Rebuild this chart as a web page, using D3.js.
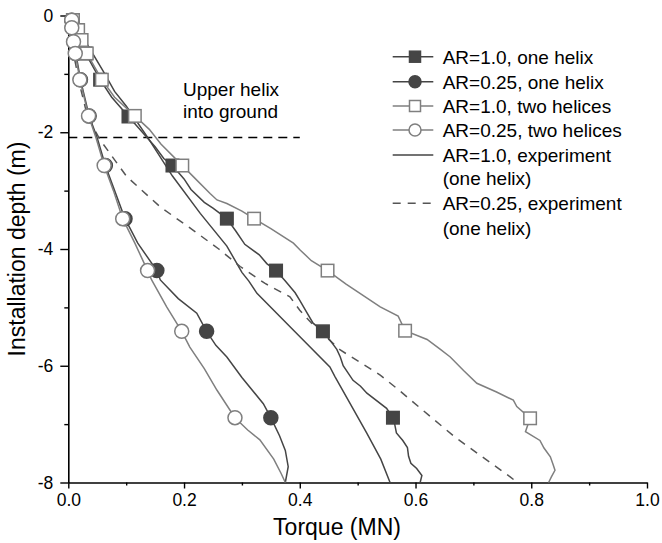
<!DOCTYPE html>
<html><head><meta charset="utf-8">
<script src="https://cdn.jsdelivr.net/npm/d3@7"></script>
<style>
html,body{margin:0;padding:0;background:#fff;}
svg{display:block;font-family:"Liberation Sans",Arial,Helvetica,sans-serif;}
</style></head>
<body><svg id="c" width="662" height="543"></svg>
<script>
// ---- data (torque MN, depth m) ----
const seriesNames = ["AR=1.0, one helix","AR=0.25, one helix","AR=1.0, two helices","AR=0.25, two helices","AR=1.0, experiment","AR=0.25, experiment"];
const xTicks = [0,0.2,0.4,0.6,0.8,1.0];
const xTickLabels = ["0.0","0.2","0.4","0.6","0.8","1.0"];
const yTicks = [0,-2,-4,-6,-8];
const yTickLabels = ["0","-2","-4","-6","-8"];

const ar1OneLine = [[0,0],[0.008,-0.08],[0.016,-0.25],[0.022,-0.42],[0.03,-0.65],[0.055,-1.1],[0.075,-1.4],[0.104,-1.73],[0.128,-2.0],[0.15,-2.25],[0.165,-2.45],[0.18,-2.57],[0.2,-2.8],[0.212,-2.98],[0.235,-3.2],[0.25,-3.3],[0.274,-3.48],[0.29,-3.7],[0.305,-3.92],[0.33,-4.1],[0.343,-4.25],[0.359,-4.37],[0.375,-4.55],[0.392,-4.75],[0.40,-4.88],[0.41,-5.05],[0.423,-5.27],[0.44,-5.41],[0.455,-5.6],[0.464,-5.72],[0.47,-5.85],[0.475,-6.0],[0.492,-6.25],[0.505,-6.35],[0.516,-6.47],[0.55,-6.73],[0.561,-6.89],[0.564,-7.0],[0.567,-7.15],[0.578,-7.28],[0.586,-7.4],[0.588,-7.55],[0.592,-7.67],[0.602,-7.76],[0.611,-7.88],[0.608,-8]];
const ar1OneMarks = [[0.008,-0.08],[0.016,-0.25],[0.022,-0.42],[0.03,-0.65],[0.055,-1.1],[0.104,-1.73],[0.18,-2.57],[0.274,-3.48],[0.359,-4.37],[0.44,-5.41],[0.561,-6.89]];

const ar025OneLine = [[0,0],[0.006,-0.08],[0.007,-0.21],[0.010,-0.45],[0.013,-0.65],[0.021,-1.1],[0.036,-1.72],[0.05,-2.1],[0.064,-2.57],[0.08,-3.0],[0.098,-3.48],[0.12,-3.9],[0.153,-4.37],[0.159,-4.53],[0.19,-4.85],[0.222,-5.1],[0.239,-5.41],[0.255,-5.65],[0.274,-5.85],[0.30,-6.2],[0.337,-6.65],[0.35,-6.89],[0.365,-7.2],[0.375,-7.45],[0.38,-7.73],[0.375,-8]];
const ar025OneMarks = [[0.006,-0.08],[0.007,-0.21],[0.010,-0.45],[0.013,-0.65],[0.021,-1.1],[0.036,-1.72],[0.064,-2.57],[0.098,-3.48],[0.153,-4.37],[0.239,-5.41],[0.35,-6.89]];

const ar1TwoLine = [[0,0],[0.008,-0.08],[0.017,-0.25],[0.023,-0.42],[0.032,-0.65],[0.058,-1.1],[0.08,-1.4],[0.115,-1.72],[0.14,-1.95],[0.16,-2.2],[0.18,-2.4],[0.197,-2.57],[0.216,-2.76],[0.245,-3.05],[0.257,-3.16],[0.274,-3.22],[0.3,-3.35],[0.321,-3.48],[0.35,-3.65],[0.389,-3.9],[0.401,-4.02],[0.42,-4.2],[0.448,-4.37],[0.48,-4.6],[0.504,-4.76],[0.539,-4.99],[0.57,-5.15],[0.582,-5.4],[0.62,-5.55],[0.643,-5.72],[0.66,-5.85],[0.683,-6.08],[0.706,-6.3],[0.74,-6.45],[0.769,-6.59],[0.775,-6.7],[0.798,-6.9],[0.79,-7.13],[0.815,-7.28],[0.822,-7.41],[0.833,-7.56],[0.838,-7.7],[0.841,-7.79],[0.835,-7.9],[0.83,-8]];
const ar1TwoMarks = [[0.008,-0.08],[0.017,-0.25],[0.023,-0.42],[0.032,-0.65],[0.058,-1.1],[0.115,-1.72],[0.197,-2.57],[0.321,-3.48],[0.448,-4.37],[0.582,-5.4],[0.798,-6.9]];

const ar025TwoLine = [[0,0],[0.006,-0.08],[0.006,-0.21],[0.009,-0.45],[0.012,-0.65],[0.02,-1.1],[0.035,-1.72],[0.048,-2.1],[0.062,-2.57],[0.078,-3.0],[0.094,-3.48],[0.115,-3.9],[0.137,-4.37],[0.144,-4.53],[0.17,-4.99],[0.196,-5.41],[0.21,-5.68],[0.235,-6.05],[0.257,-6.42],[0.288,-6.89],[0.31,-7.1],[0.331,-7.27],[0.355,-7.6],[0.368,-7.85],[0.375,-8]];
const ar025TwoMarks = [[0.006,-0.08],[0.006,-0.21],[0.009,-0.45],[0.012,-0.65],[0.02,-1.1],[0.035,-1.72],[0.062,-2.57],[0.094,-3.48],[0.137,-4.37],[0.196,-5.41],[0.288,-6.89]];

const ar1Exp = [[0,0],[0.03,-0.45],[0.06,-0.95],[0.08,-1.3],[0.1,-1.55],[0.138,-2.1],[0.18,-2.75],[0.228,-3.39],[0.274,-3.95],[0.30,-4.4],[0.312,-4.55],[0.326,-4.76],[0.39,-5.4],[0.452,-6.02],[0.461,-6.19],[0.49,-6.7],[0.516,-7.16],[0.54,-7.6],[0.556,-8]];
const ar025Exp = [[0,0],[0.004,-0.3],[0.01,-0.7],[0.02,-1.2],[0.03,-1.6],[0.042,-1.9],[0.055,-2.13],[0.101,-2.76],[0.159,-3.28],[0.216,-3.68],[0.26,-4.0],[0.297,-4.3],[0.34,-4.59],[0.383,-4.82],[0.40,-5.05],[0.423,-5.3],[0.47,-5.73],[0.539,-6.16],[0.568,-6.39],[0.64,-6.99],[0.668,-7.22],[0.711,-7.53],[0.763,-7.9],[0.776,-8]];

const helixDepth = -2.09;
const helixXEnd = 0.4;

// ---- drawing ----
const svg = d3.select("#c");
const x = d3.scaleLinear().domain([0,1]).range([68.3,647]);
const y = d3.scaleLinear().domain([0,-8]).range([15.5,482.5]);
const dark = "#454545", light = "#7f7f7f";
const line = d3.line().x(d=>x(d[0])).y(d=>y(d[1]));

// axes
const xAxis = d3.axisBottom(x).tickValues(xTicks).tickFormat((d,i)=>xTickLabels[i]).tickSizeInner(6).tickSizeOuter(0).tickPadding(5);
const gx = svg.append("g").attr("transform",`translate(0,${y(-8)})`).call(xAxis);
const xMinor = d3.axisBottom(x).tickValues([0.1,0.3,0.5,0.7,0.9]).tickFormat("").tickSizeInner(3).tickSizeOuter(0);
const gxm = svg.append("g").attr("transform",`translate(0,${y(-8)})`).call(xMinor);
gxm.select(".domain").remove();
const yAxis = d3.axisLeft(y).tickValues(yTicks).tickFormat((d,i)=>yTickLabels[i]).tickSizeInner(8).tickSizeOuter(0).tickPadding(7);
const gy = svg.append("g").attr("transform",`translate(${x(0)},0)`).call(yAxis);
const yMinor = d3.axisLeft(y).tickValues([-1,-3,-5,-7]).tickFormat("").tickSizeInner(4).tickSizeOuter(0);
const gym = svg.append("g").attr("transform",`translate(${x(0)},0)`).call(yMinor);
gym.select(".domain").remove();
svg.selectAll(".domain").attr("stroke","#000").attr("stroke-width",1.6);
svg.selectAll(".tick line").attr("stroke","#000").attr("stroke-width",1.4);
gx.selectAll("text").attr("font-size",17.5).attr("fill","#000").attr("font-family","Liberation Sans, Arial, sans-serif");
gy.selectAll("text").attr("font-size",17.5).attr("fill","#000").attr("font-family","Liberation Sans, Arial, sans-serif");

svg.append("text").attr("x",337).attr("y",535).attr("text-anchor","middle").attr("font-size",23).text("Torque (MN)");
svg.append("text").attr("transform",`translate(25,${(y(0)+y(-8))/2}) rotate(-90)`).attr("text-anchor","middle").attr("font-size",23).text("Installation depth (m)");

// helix reference line
svg.append("line").attr("x1",x(0)).attr("x2",x(helixXEnd)).attr("y1",y(helixDepth)).attr("y2",y(helixDepth))
  .attr("stroke","#000").attr("stroke-width",1.4).attr("stroke-dasharray","9,6");
svg.append("text").attr("x",183).attr("y",95.5).attr("font-size",19).text("Upper helix");
svg.append("text").attr("x",183).attr("y",118).attr("font-size",19).text("into ground");

// experiment lines
svg.append("path").datum(ar1Exp).attr("d",line).attr("fill","none").attr("stroke",dark).attr("stroke-width",1.5);
svg.append("path").datum(ar025Exp).attr("d",line).attr("fill","none").attr("stroke","#555").attr("stroke-width",1.5).attr("stroke-dasharray","8,7");

// simulation series
const sims = [
  {line:ar1OneLine, marks:ar1OneMarks, color:dark, shape:"square", filled:true},
  {line:ar025OneLine, marks:ar025OneMarks, color:dark, shape:"circle", filled:true},
  {line:ar1TwoLine, marks:ar1TwoMarks, color:light, shape:"square", filled:false},
  {line:ar025TwoLine, marks:ar025TwoMarks, color:light, shape:"circle", filled:false}
];
function drawMarker(g, cx, cy, s, size){
  if(s.shape==="square"){
    g.append("rect").attr("x",cx-size/2).attr("y",cy-size/2).attr("width",size).attr("height",size)
      .attr("fill",s.filled?s.color:"#fff").attr("stroke",s.color).attr("stroke-width",1.5);
  } else {
    g.append("circle").attr("cx",cx).attr("cy",cy).attr("r",size/2)
      .attr("fill",s.filled?s.color:"#fff").attr("stroke",s.color).attr("stroke-width",1.5);
  }
}
sims.forEach(s=>{
  const g = svg.append("g");
  g.append("path").datum(s.line).attr("d",line).attr("fill","none").attr("stroke",s.color).attr("stroke-width",1.5);
  s.marks.forEach(m=>drawMarker(g, x(m[0]), y(m[1]), s, s.shape==="square"?12.5:14));
});

// legend
const lg = svg.append("g");
const lx1 = 392.7, lx2 = 433.3, lmx = 415, ltx = 442.7;
const rows = [56.7,81.7,106,130,155,203.3];
const extra = [[178.3,"(one helix)"],[227.7,"(one helix)"]];
sims.forEach((s,i)=>{
  lg.append("line").attr("x1",lx1).attr("x2",lx2).attr("y1",rows[i]).attr("y2",rows[i]).attr("stroke",s.color).attr("stroke-width",1.5);
  drawMarker(lg, lmx, rows[i], s, s.shape==="square"?11:12);
});
lg.append("line").attr("x1",lx1).attr("x2",lx2).attr("y1",rows[4]).attr("y2",rows[4]).attr("stroke",dark).attr("stroke-width",1.5);
lg.append("line").attr("x1",lx1).attr("x2",lx2+2).attr("y1",rows[5]).attr("y2",rows[5]).attr("stroke","#555").attr("stroke-width",1.5).attr("stroke-dasharray","8,7");
seriesNames.forEach((n,i)=>{
  lg.append("text").attr("x",ltx).attr("y",rows[i]).attr("dy","0.36em").attr("font-size",19).text(n);
});
extra.forEach(e=>lg.append("text").attr("x",ltx).attr("y",e[0]).attr("dy","0.36em").attr("font-size",19).text(e[1]));
</script></body></html>
